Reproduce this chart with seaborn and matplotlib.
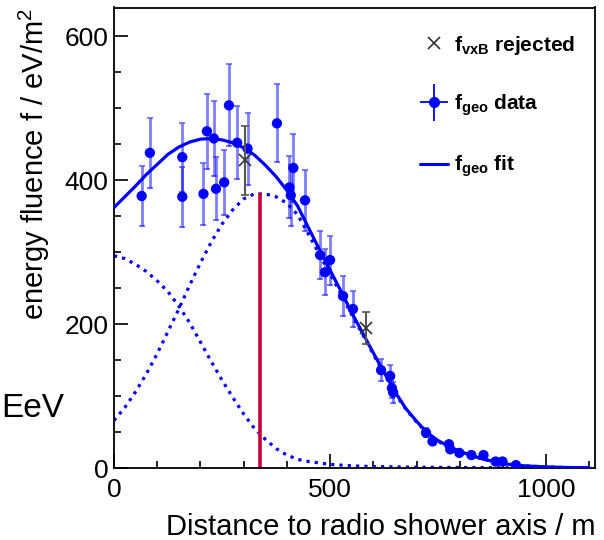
import numpy as np
import matplotlib
matplotlib.use("Agg")
import matplotlib.pyplot as plt
import seaborn as sns
from matplotlib.lines import Line2D
from matplotlib.legend_handler import HandlerErrorbar
from matplotlib.ticker import MultipleLocator

# ---------------- data ----------------
geo_distance = [64, 83, 158, 158, 207, 215, 231, 236, 255, 266, 285, 309,
                377, 406, 409, 415, 442, 477, 488, 500, 530, 553, 618, 639,
                643, 646, 722, 737, 775, 778, 799, 827, 855, 883, 899, 930]
geo_fluence = [378, 438, 432, 377, 381, 468, 458, 388, 397, 504, 452, 444,
               479, 390, 379, 417, 372, 296, 272, 289, 239, 221, 136, 128,
               111, 105, 49, 37, 33, 26, 21, 18, 18, 9, 9, 4]
geo_error = [42, 49, 48, 42, 43, 52, 52, 44, 45, 57, 51, 50,
             54, 43, 42, 47, 42, 33, 32, 34, 28, 25, 15, 15,
             14, 14, 6, 5, 4, 4, 3, 3, 3, 2, 2, 1]

rej_distance = [304, 584]
rej_fluence = [428, 195]
rej_error = [48, 22]

fit_distance = [0, 25, 50, 75, 100, 125, 150, 175, 200, 225, 250, 275, 300,
                325, 350, 375, 400, 425, 450, 475, 500, 525, 550, 575, 600,
                625, 650, 675, 700, 725, 750, 775, 800, 850, 900, 950, 1000,
                1050, 1100]
fit_total = [362, 377, 392, 408, 422, 436, 446, 453, 457, 458, 456, 452, 445,
             435, 421, 405, 386, 364, 334, 304, 275, 246, 216, 188, 160,
             133, 106, 83, 65, 49, 38, 30, 23, 13, 6, 3, 1.5, 0.7, 0.3]
fit_core = [295, 291, 283, 273, 260, 245, 225, 202, 175, 148, 122, 98, 75,
            55, 40, 27, 18, 12, 9, 7, 5, 4, 3, 2.5, 2, 1.8, 1.5, 1.3, 1.1,
            1.0, 0.9, 0.8, 0.7, 0.5, 0.4, 0.3, 0.2, 0.1, 0.1]
fit_ring = [66, 84, 106, 131, 159, 190, 221, 254, 285, 314, 339, 359, 374,
            381, 381, 377, 368, 352, 325, 297, 270, 242, 213, 186, 158,
            131, 104, 82, 64, 48, 37, 29, 22, 13, 6, 3, 1.5, 0.6, 0.3]

peak_distance = 338
peak_fluence = 382

x_limits = (0, 1113)
y_limits = (0, 640)

legend_labels = [r'$\mathbf{f}_{\mathbf{vxB}}$ rejected',
                 r'$\mathbf{f}_{\mathbf{geo}}$ data',
                 r'$\mathbf{f}_{\mathbf{geo}}$ fit']
x_label = 'Distance to radio shower axis / m'
y_label = r'energy fluence f / eV/m$^{2}$'
side_text = 'EeV'

# ---------------- style ----------------
sns.set_style("ticks")
plt.rcParams['font.family'] = ['Liberation Sans', 'DejaVu Sans']
plt.rcParams['mathtext.fontset'] = 'custom'
plt.rcParams['mathtext.rm'] = 'Liberation Sans'
plt.rcParams['mathtext.it'] = 'Liberation Sans:italic'
plt.rcParams['mathtext.bf'] = 'Liberation Sans:bold'
plt.rcParams['text.color'] = 'black'
plt.rcParams['axes.labelcolor'] = 'black'
plt.rcParams['xtick.color'] = 'black'
plt.rcParams['ytick.color'] = 'black'

BLUE = '#0000ff'
RED = '#c8003c'
GREY = '#333333'

fig = plt.figure(figsize=(6.04, 5.40), dpi=100)
ax = fig.add_axes([114 / 604, 1 - 468 / 540, 481 / 604, 460.5 / 540])

dotted = (0, (1, 1.6))
sns.lineplot(x=fit_distance, y=fit_core, ax=ax, color=BLUE, lw=2.3,
             linestyle=dotted, sort=False, estimator=None, zorder=2)
sns.lineplot(x=fit_distance, y=fit_ring, ax=ax, color=BLUE, lw=2.3,
             linestyle=dotted, sort=False, estimator=None, zorder=2)
sns.lineplot(x=fit_distance, y=fit_total, ax=ax, color=BLUE, lw=2.3,
             sort=False, estimator=None, zorder=3)

ax.vlines(peak_distance, 0, peak_fluence, color=RED, lw=2.6, zorder=2.5)

ax.errorbar(geo_distance, geo_fluence, yerr=geo_error, fmt='none',
            ecolor=(0, 0, 1, 0.5), elinewidth=2.0, capsize=2.5,
            capthick=1.5, zorder=3.5)
sns.scatterplot(x=geo_distance, y=geo_fluence, ax=ax, color=BLUE, s=55,
                edgecolor='none', linewidth=0, zorder=4)

ax.errorbar(rej_distance, rej_fluence, yerr=rej_error, fmt='x', color=GREY,
            ms=9, mew=1.2, ecolor='#555555', elinewidth=1.5, capsize=3,
            capthick=1.2, zorder=5)

# legend proxies
h_rej = Line2D([], [], ls='none', marker='x', color=GREY, ms=8.5, mew=1.2)
h_data = ax.errorbar([np.nan], [np.nan], xerr=[1], yerr=[1], fmt='o',
                     color=BLUE, ms=7, elinewidth=1.3, capsize=0)
h_fit = Line2D([], [], color=BLUE, lw=2.2)
ax.legend([h_rej, h_data, h_fit], legend_labels,
          handler_map={h_data: HandlerErrorbar(xerr_size=0.67, yerr_size=0.87)},
          loc='upper left', bbox_to_anchor=(0.636, 0.943), frameon=False,
          borderpad=0, borderaxespad=0, handlelength=1.35,
          handletextpad=0.3, labelspacing=1.72,
          prop={'family': 'Liberation Sans', 'weight': 'bold', 'size': 15})

# axes
ax.set_xlim(*x_limits)
ax.set_ylim(*y_limits)
ax.xaxis.set_major_locator(MultipleLocator(500))
ax.xaxis.set_minor_locator(MultipleLocator(100))
ax.yaxis.set_major_locator(MultipleLocator(200))
ax.yaxis.set_minor_locator(MultipleLocator(50))
ax.tick_params(which='both', direction='in', top=False, right=False,
               width=1.2, colors='black', labelsize=19)
ax.tick_params(which='major', length=10)
ax.tick_params(which='minor', length=5)
ax.tick_params(axis='x', pad=7)
ax.tick_params(axis='y', pad=4)
for sp in ax.spines.values():
    sp.set_visible(True)
    sp.set_linewidth(1.3)
    sp.set_color('black')

ax.set_xlabel(x_label, fontsize=21, loc='right')
ax.xaxis.set_label_coords(1.0, -0.098)
ax.set_ylabel(y_label, fontsize=21, loc='top')
ax.yaxis.set_label_coords(-0.129, 1.0)
ax.yaxis.label.set_verticalalignment('bottom')

fig.text(1 / 604, 1 - 417 / 540, side_text, fontsize=24, ha='left',
         va='baseline')

fig.savefig('out.png', dpi=100)
